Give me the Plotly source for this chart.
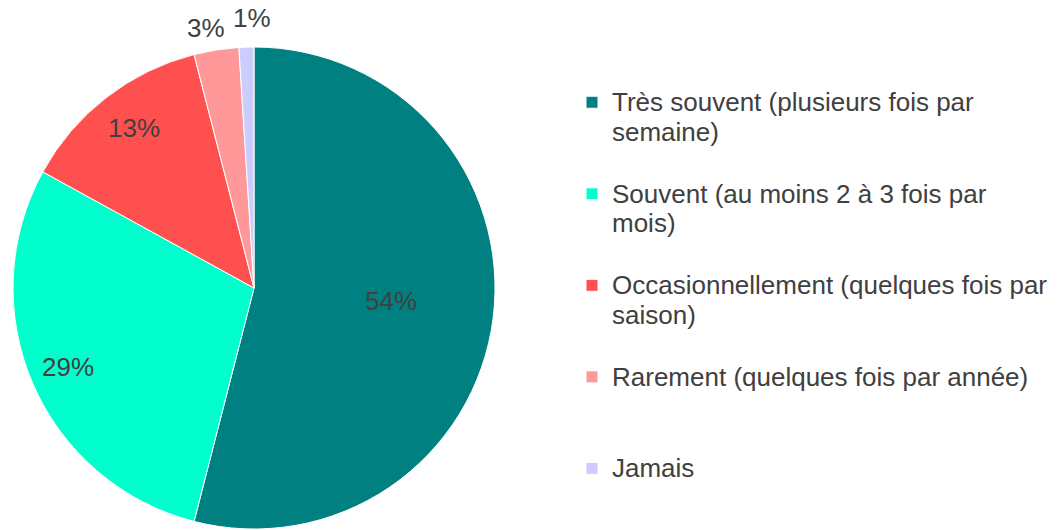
import math
import plotly.graph_objects as go

categories = [
    "Très souvent (plusieurs fois par<br>semaine)",
    "Souvent (au moins 2 à 3 fois par<br>mois)",
    "Occasionnellement (quelques fois par<br>saison)",
    "Rarement (quelques fois par année)",
    "Jamais",
]
values = [54, 29, 13, 3, 1]
colors = ["#008080", "#00FFCC", "#FF5050", "#FF9999", "#CCCCFF"]
# label placement style: radial position (fraction of radius) and angle nudge (deg)
label_radius = [0.57, 0.84, 0.83, 1.095, 1.12]
label_nudge = [-1.8, 0.4, 0.9, -1.4, 1.3]

W, H = 1062, 530
TEXT = "#404040"
FONT = "Liberation Sans, Arial, sans-serif"

# pie geometry in pixels
CX, CY, R = 254, 288, 241

# legend names: enlarge the visible lines, pad each entry to 3 lines
leg_names = []
for c in categories:
    lines = c.split("<br>")
    while len(lines) < 3:
        lines.append(" ")
    leg_names.append("<br>".join('<span style="font-size:26px">' + l + "</span>" for l in lines))

fig = go.Figure(
    go.Pie(
        labels=leg_names,
        values=values,
        sort=False,
        direction="clockwise",
        rotation=0,
        marker=dict(colors=colors, line=dict(color="white", width=1)),
        textinfo="none",
        domain=dict(x=[(CX - R) / W, (CX + R) / W], y=[(H - CY - R) / H, (H - CY + R) / H]),
        hoverinfo="label+percent",
    )
)

# percentage labels placed at each slice's mid angle
total = sum(values)
cum = 0
for v, rf, nd in zip(values, label_radius, label_nudge):
    mid = (cum + v / 2) / total * 2 * math.pi + math.radians(nd)
    cum += v
    px = CX + rf * R * math.sin(mid)
    py = CY - rf * R * math.cos(mid)
    fig.add_annotation(
        x=px / W, y=1 - py / H, xref="paper", yref="paper",
        text=f"{round(v / total * 100)}%", showarrow=False,
        font=dict(size=26, color=TEXT, family=FONT),
        xanchor="center", yanchor="middle",
    )

fig.update_layout(
    width=W,
    height=H,
    margin=dict(l=0, r=0, t=0, b=0, autoexpand=False),
    paper_bgcolor="white",
    plot_bgcolor="white",
    font=dict(family=FONT, color=TEXT),
    showlegend=True,
    legend=dict(
        x=572 / W,
        xanchor="left",
        y=1 - 81 / H,
        yanchor="top",
        valign="top",
        font=dict(size=22.7, color=TEXT, family=FONT),
        bgcolor="rgba(0,0,0,0)",
    ),
)

fig.write_html(
    "out.html",
    config={"displayModeBar": False},
    post_script="document.body.style.margin='0';",
)
